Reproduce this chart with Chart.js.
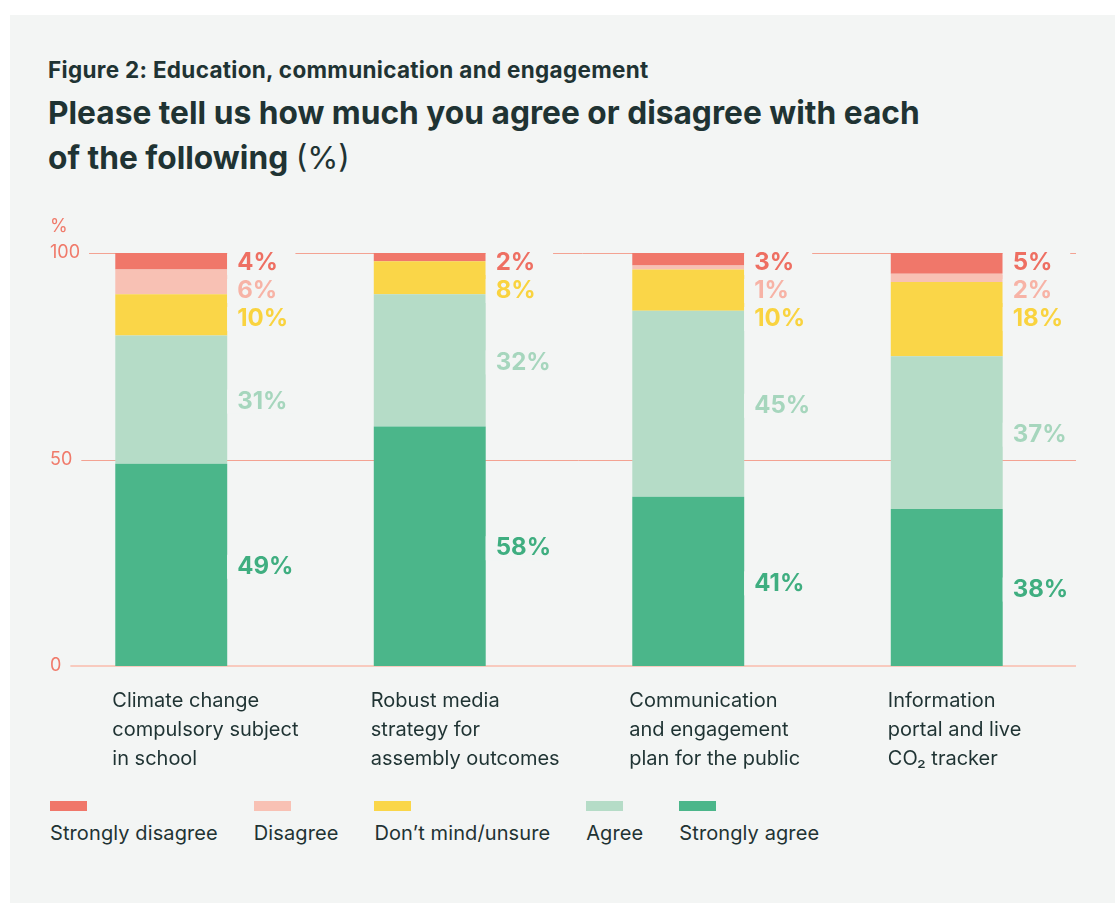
<!DOCTYPE html>
<html>
<head>
<meta charset="utf-8">
<title>Education, communication and engagement</title>
<script src="https://cdn.jsdelivr.net/npm/chart.js@4.4.1/dist/chart.umd.min.js"></script>
<style>
  body { margin: 0; background: #fff; color: #1f3333; }
  .panel { position: absolute; left: 10px; top: 15px; width: 1105px; height: 888px; background: #f3f5f4; }
  .fig { position: absolute; left: 48px; top: 57px; font: 700 22.5px Inter, sans-serif; letter-spacing: 0.3px; line-height: 26px; white-space: nowrap; }
  .heading { position: absolute; left: 48px; top: 90px; font: 700 31.7px Inter, sans-serif; line-height: 45px; white-space: nowrap; }
  .heading span { font-weight: 400; }
  #chartWrap { position: absolute; left: 0; top: 200px; width: 1115px; height: 590px; }
  .legend { position: absolute; left: 50px; top: 801px; display: flex; gap: 36px; }
  .legend .sw { width: 37px; height: 10px; }
  .legend .lb { margin-top: 10px; font: 400 20px Inter, sans-serif; letter-spacing: 0.1px; line-height: 24px; white-space: nowrap; }
</style>
</head>
<body>
<div class="panel"></div>
<div class="fig">Figure 2: Education, communication and engagement</div>
<div class="heading">Please tell us how much you agree or disagree with each<br>of the following <span>(%)</span></div>
<div id="chartWrap"><canvas id="stackChart" width="1115" height="590"></canvas></div>
<div class="legend" id="legend"></div>

<script>
const categories = [
  ['Climate change', 'compulsory subject', 'in school'],
  ['Robust media', 'strategy for', 'assembly outcomes'],
  ['Communication', 'and engagement', 'plan for the public'],
  ['Information', 'portal and live', 'CO\u2082 tracker']
];
const seriesNames = ['Strongly agree', 'Agree', 'Don\u2019t mind/unsure', 'Disagree', 'Strongly disagree'];
const stronglyAgree = [49, 58, 41, 38];
const agree = [31, 32, 45, 37];
const unsure = [10, 8, 10, 18];
const disagree = [6, 0, 1, 2];
const stronglyDisagree = [4, 2, 3, 5];
const yTicks = [0, 50, 100];

const barColors = ['#4bb68a', '#b5dcc7', '#fad648', '#f8c1b4', '#f0776a'];
const labelColors = ['#3fae80', '#a6d6bd', '#f9d33f', '#f7b3a6', '#ee6f62'];
const tickColor = '#f07a6a';
const textColor = '#1f3333';
const panelBg = '#f3f5f4';

const series = [stronglyAgree, agree, unsure, disagree, stronglyDisagree];

// legend: strongly disagree first
const legendEl = document.getElementById('legend');
for (let i = series.length - 1; i >= 0; i--) {
  const item = document.createElement('div');
  item.innerHTML = `<div class="sw" style="background:${barColors[i]}"></div><div class="lb">${seriesNames[i]}</div>`;
  legendEl.appendChild(item);
}

// axis ticks, gridlines, value labels and category labels
const decor = {
  id: 'decor',
  beforeDatasetsDraw(chart) {
    const { ctx, chartArea, scales: { y } } = chart;
    ctx.save();
    ctx.font = '400 18px Inter, sans-serif';
    ctx.fillStyle = tickColor;
    ctx.textAlign = 'left';
    ctx.textBaseline = 'middle';
    ctx.fillText('%', 50, y.getPixelForValue(100) - 26);
    yTicks.forEach(v => {
      const py = Math.round(y.getPixelForValue(v));
      const txt = String(v);
      ctx.fillStyle = tickColor;
      ctx.fillText(txt, 50, py);
      const x0 = 50 + ctx.measureText(txt).width + 9;
      ctx.beginPath();
      if (v === 0) {
        ctx.strokeStyle = '#f8cabe';
        ctx.lineWidth = 2;
        ctx.moveTo(x0, py);
        ctx.lineTo(chartArea.right, py);
      } else {
        ctx.strokeStyle = '#f3a292';
        ctx.lineWidth = 1;
        ctx.moveTo(x0, py + 0.5);
        ctx.lineTo(chartArea.right, py + 0.5);
      }
      ctx.stroke();
    });
    ctx.restore();
  },
  afterDatasetsDraw(chart) {
    const { ctx, chartArea } = chart;
    ctx.save();
    ctx.textAlign = 'left';
    ctx.textBaseline = 'middle';
    categories.forEach((cat, i) => {
      const base = chart.getDatasetMeta(0).data[i];
      const left = base.x - base.width / 2;
      const right = base.x + base.width / 2;
      const lx = right + 10;
      const labels = [];
      // top three answers are listed from the top of the bar
      let row = 0;
      [4, 3, 2].forEach(d => {
        const v = series[d][i];
        if (!v) return;
        labels.push({ text: v + '%', color: labelColors[d], y: chartArea.top + 10 + 28 * row });
        row++;
      });
      // agree answers sit in the middle of their segment
      [1, 0].forEach(d => {
        const el = chart.getDatasetMeta(d).data[i];
        labels.push({ text: series[d][i] + '%', color: labelColors[d], y: (el.y + el.base) / 2 + 2 });
      });
      ctx.font = '700 24px Inter, sans-serif';
      const maxW = Math.max(...labels.map(l => ctx.measureText(l.text).width));
      labels.forEach(l => {
        ctx.fillStyle = panelBg;
        ctx.fillRect(right, l.y - 12, lx + maxW + 2 - right, 24);
        ctx.fillStyle = l.color;
        ctx.fillText(l.text, lx, l.y);
      });
      // category text under the bar
      ctx.font = '400 20px Inter, sans-serif';
      ctx.fillStyle = textColor;
      cat.forEach((line, k) => {
        ctx.fillText(line, left - 3, chartArea.bottom + 35 + 29 * k);
      });
    });
    ctx.restore();
  }
};

new Chart(document.getElementById('stackChart'), {
  type: 'bar',
  data: {
    labels: categories.map(c => c.join(' ')),
    datasets: series.map((data, i) => ({
      label: seriesNames[i],
      data: data,
      backgroundColor: barColors[i],
      borderWidth: 0,
      barPercentage: 0.433,
      categoryPercentage: 1
    }))
  },
  options: {
    responsive: false,
    devicePixelRatio: 1,
    animation: false,
    layout: { padding: { left: 42, right: 39, top: 53, bottom: 124 } },
    plugins: {
      legend: { display: false },
      tooltip: { enabled: false }
    },
    scales: {
      x: { stacked: true, display: false },
      y: { stacked: true, display: false, min: 0, max: 100 }
    }
  },
  plugins: [decor]
});
</script>
</body>
</html>
